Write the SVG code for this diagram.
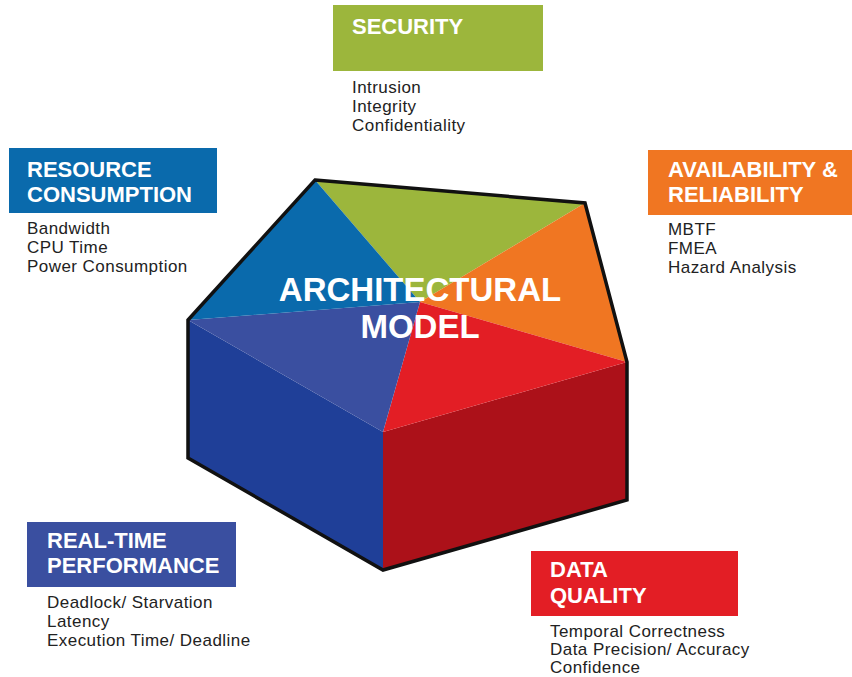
<svg xmlns="http://www.w3.org/2000/svg" width="852" height="677" viewBox="0 0 852 677">
<style>
.hd{font-family:"Liberation Sans",Arial,sans-serif;font-weight:bold;font-size:22px;fill:#fff}
.it{font-family:"Liberation Sans",Arial,sans-serif;font-size:17px;letter-spacing:0.45px;fill:#222}
.tt{font-family:"Liberation Sans",Arial,sans-serif;font-weight:bold;font-size:33px;fill:#fff;text-anchor:middle}
</style>
<rect width="852" height="677" fill="#fff"/>
<g id="model">
<polygon points="188,320 383,432 383,570 188,458" fill="#1f3f98"/>
<polygon points="383,432 627,362 627,500 383,570" fill="#ac1119"/>
<polygon points="420,302 315,180 585,203" fill="#9cb63c"/>
<polygon points="420,302 585,203 627,362" fill="#f07622"/>
<polygon points="420,302 627,362 383,432" fill="#e31e25"/>
<polygon points="420,302 383,432 188,320" fill="#3a4fa0"/>
<polygon points="420,302 188,320 315,180" fill="#0a6aac"/>
<polygon points="315,180 585,203 627,362 627,500 383,570 188,458 188,320" fill="none" stroke="#111" stroke-width="3.5" stroke-linejoin="miter"/>
<text class="tt" x="420" y="301">ARCHITECTURAL</text>
<text class="tt" x="420" y="338">MODEL</text>
</g>
<g id="security">
<rect x="333" y="5" width="210" height="66" fill="#9cb63c"/>
<text class="hd" x="352" y="34">SECURITY</text>
<text class="it" x="352" y="93">Intrusion</text>
<text class="it" x="352" y="112">Integrity</text>
<text class="it" x="352" y="131">Confidentiality</text>
</g>
<g id="resource">
<rect x="9" y="148" width="208" height="65" fill="#0a6aac"/>
<text class="hd" x="27" y="177">RESOURCE</text>
<text class="hd" x="27" y="202">CONSUMPTION</text>
<text class="it" x="27" y="234">Bandwidth</text>
<text class="it" x="27" y="253">CPU Time</text>
<text class="it" x="27" y="272">Power Consumption</text>
</g>
<g id="availability">
<rect x="648" y="150" width="204" height="65" fill="#f07622"/>
<text class="hd" x="668" y="177">AVAILABILITY &amp;</text>
<text class="hd" x="668" y="202">RELIABILITY</text>
<text class="it" x="668" y="235">MBTF</text>
<text class="it" x="668" y="254">FMEA</text>
<text class="it" x="668" y="273">Hazard Analysis</text>
</g>
<g id="realtime">
<rect x="27" y="522" width="209" height="65" fill="#3a4fa0"/>
<text class="hd" x="47" y="548">REAL-TIME</text>
<text class="hd" x="47" y="573">PERFORMANCE</text>
<text class="it" x="47" y="608">Deadlock/ Starvation</text>
<text class="it" x="47" y="627">Latency</text>
<text class="it" x="47" y="646">Execution Time/ Deadline</text>
</g>
<g id="dataquality">
<rect x="531" y="551" width="207" height="65" fill="#e31e25"/>
<text class="hd" x="550" y="577">DATA</text>
<text class="hd" x="550" y="603">QUALITY</text>
<text class="it" x="550" y="637">Temporal Correctness</text>
<text class="it" x="550" y="655">Data Precision/ Accuracy</text>
<text class="it" x="550" y="673">Confidence</text>
</g>
<g id="connectors"/>
</svg>
